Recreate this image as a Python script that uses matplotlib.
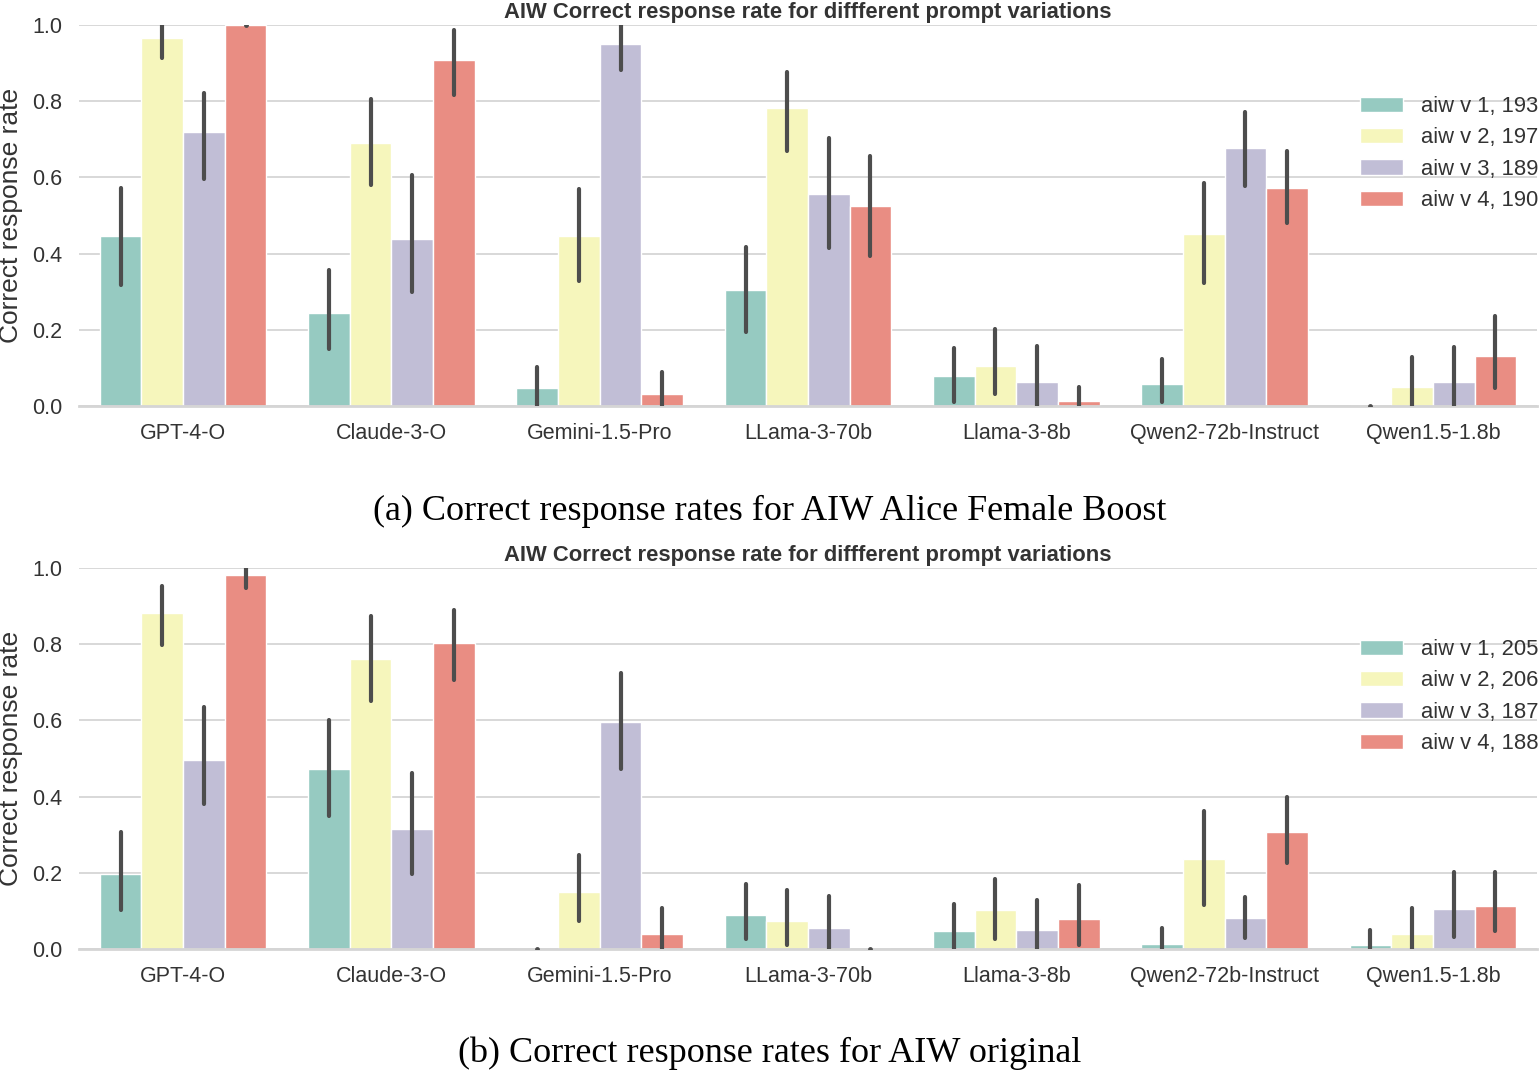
import matplotlib
matplotlib.use("Agg")
import matplotlib.pyplot as plt
import numpy as np

# ---------------- data ----------------
models = ["GPT-4-O", "Claude-3-O", "Gemini-1.5-Pro", "LLama-3-70b",
          "Llama-3-8b", "Qwen2-72b-Instruct", "Qwen1.5-1.8b"]

labels_a = ["aiw v 1, 193", "aiw v 2, 197", "aiw v 3, 189", "aiw v 4, 190"]
labels_b = ["aiw v 1, 205", "aiw v 2, 206", "aiw v 3, 187", "aiw v 4, 188"]

# (a) AIW Alice Female Boost : mean, ci low, ci high per variation
a_v1 = [0.445, 0.244, 0.047, 0.305, 0.080, 0.058, 0.000]
a_v1_lo = [0.318, 0.149, 0.000, 0.195, 0.011, 0.011, 0.000]
a_v1_hi = [0.572, 0.356, 0.102, 0.417, 0.152, 0.124, 0.000]

a_v2 = [0.965, 0.689, 0.447, 0.781, 0.105, 0.451, 0.051]
a_v2_lo = [0.914, 0.579, 0.329, 0.669, 0.032, 0.323, 0.000]
a_v2_hi = [1.000, 0.805, 0.570, 0.876, 0.202, 0.585, 0.128]

a_v3 = [0.718, 0.439, 0.949, 0.557, 0.063, 0.678, 0.063]
a_v3_lo = [0.597, 0.299, 0.881, 0.416, 0.000, 0.577, 0.000]
a_v3_hi = [0.822, 0.607, 1.000, 0.704, 0.158, 0.772, 0.156]

a_v4 = [1.000, 0.907, 0.032, 0.525, 0.012, 0.572, 0.130]
a_v4_lo = [1.000, 0.815, 0.000, 0.395, 0.000, 0.480, 0.047]
a_v4_hi = [1.000, 0.986, 0.089, 0.657, 0.051, 0.669, 0.235]

# (b) AIW original
b_v1 = [0.197, 0.473, 0.000, 0.088, 0.046, 0.013, 0.011]
b_v1_lo = [0.103, 0.350, 0.000, 0.027, 0.000, 0.000, 0.000]
b_v1_hi = [0.308, 0.601, 0.000, 0.170, 0.117, 0.054, 0.051]

b_v2 = [0.882, 0.762, 0.149, 0.073, 0.103, 0.236, 0.040]
b_v2_lo = [0.797, 0.651, 0.073, 0.010, 0.027, 0.115, 0.000]
b_v2_hi = [0.952, 0.875, 0.246, 0.154, 0.185, 0.361, 0.108]

b_v3 = [0.497, 0.316, 0.597, 0.055, 0.051, 0.081, 0.104]
b_v3_lo = [0.380, 0.196, 0.473, 0.000, 0.000, 0.030, 0.032]
b_v3_hi = [0.635, 0.461, 0.724, 0.140, 0.128, 0.137, 0.201]

b_v4 = [0.982, 0.803, 0.040, 0.000, 0.079, 0.306, 0.112]
b_v4_lo = [0.947, 0.706, 0.000, 0.000, 0.011, 0.227, 0.046]
b_v4_hi = [1.000, 0.889, 0.108, 0.000, 0.167, 0.399, 0.201]

title = "AIW Correct response rate for diffferent prompt variations"
ylabel = "Correct response rate"
caption_a = "(a) Correct response rates for AIW Alice Female Boost"
caption_b = "(b) Correct response rates for AIW original"
yticks = [0.0, 0.2, 0.4, 0.6, 0.8, 1.0]

colors = ["#96cac1", "#f6f6bc", "#c1bed6", "#e98d83"]

# ---------------- fonts ----------------
sans = "Liberation Sans"
serif = "Liberation Serif"
plt.rcParams["font.family"] = [sans, "DejaVu Sans"]

W, H = 1539, 1071
fig = plt.figure(figsize=(W / 100, H / 100), dpi=100)
LEFT, RIGHT = 79, 1537

def make_axes(top_px, bottom_px):
    return fig.add_axes([LEFT / W, 1 - bottom_px / H, (RIGHT - LEFT) / W,
                         (bottom_px - top_px) / H])

def draw(ax, means, los, his, labels, legend_top_px):
    x = np.arange(len(models))
    width = 0.2
    offsets = [-0.3, -0.1, 0.1, 0.3]
    for k in range(4):
        ax.bar(x + offsets[k], means[k], width=width, color=colors[k],
               edgecolor="white", linewidth=1.0, label=labels[k], zorder=2)
    for k in range(4):
        for i in range(len(models)):
            xi = x[i] + offsets[k]
            if his[k][i] - los[k][i] < 1e-9:
                ax.plot([xi], [los[k][i]], "o", color="#4d4d4d", ms=3.5,
                        mew=0, zorder=3)
            else:
                ax.plot([xi, xi], [los[k][i], his[k][i]], color="#4d4d4d",
                        lw=3.0, solid_capstyle="round", zorder=3)
    ax.set_xlim(-0.5, len(models) - 0.5)
    ax.set_ylim(0, 1.0)
    ax.set_yticks(yticks)
    ax.set_yticklabels([f"{t:.1f}" for t in yticks])
    ax.set_xticks(x)
    ax.set_xticklabels(models)
    ax.grid(axis="y", color="#d5d5d5", lw=1.3, zorder=0)
    ax.set_axisbelow(True)
    for s in ["left", "right", "top"]:
        ax.spines[s].set_visible(False)
    ax.spines["bottom"].set_color("#d5d5d5")
    ax.spines["bottom"].set_linewidth(2.0)
    ax.tick_params(axis="both", length=0, labelsize=15.5, colors="#333333")
    ax.tick_params(axis="x", pad=12)
    ax.tick_params(axis="y", pad=12)
    ax.set_ylabel(ylabel, fontsize=19, color="#333333")
    ax.yaxis.set_label_coords((23 - LEFT) / (RIGHT - LEFT), 0.5)
    ax.set_title(title, fontsize=15.8, fontweight="bold", color="#333333",
                 pad=5)
    ax.legend(loc="upper left", frameon=False, fontsize=15.8,
              bbox_to_anchor=(1360 / W, 1 - legend_top_px / H),
              bbox_transform=fig.transFigure, borderpad=0, borderaxespad=0,
              handlelength=1.96, handleheight=0.7, handletextpad=0.82,
              labelspacing=0.47, labelcolor="#333333")

ax1 = make_axes(25, 406)
draw(ax1, [a_v1, a_v2, a_v3, a_v4], [a_v1_lo, a_v2_lo, a_v3_lo, a_v4_lo],
     [a_v1_hi, a_v2_hi, a_v3_hi, a_v4_hi], labels_a, 96)

ax2 = make_axes(568, 949)
draw(ax2, [b_v1, b_v2, b_v3, b_v4], [b_v1_lo, b_v2_lo, b_v3_lo, b_v4_lo],
     [b_v1_hi, b_v2_hi, b_v3_hi, b_v4_hi], labels_b, 639)

fig.text(0.5, 1 - 511 / H, caption_a, ha="center", va="center",
         fontsize=26, family=serif, color="black")
fig.text(0.5, 1 - 1053 / H, caption_b, ha="center", va="center",
         fontsize=26, family=serif, color="black")

fig.savefig("out.png", dpi=100)
